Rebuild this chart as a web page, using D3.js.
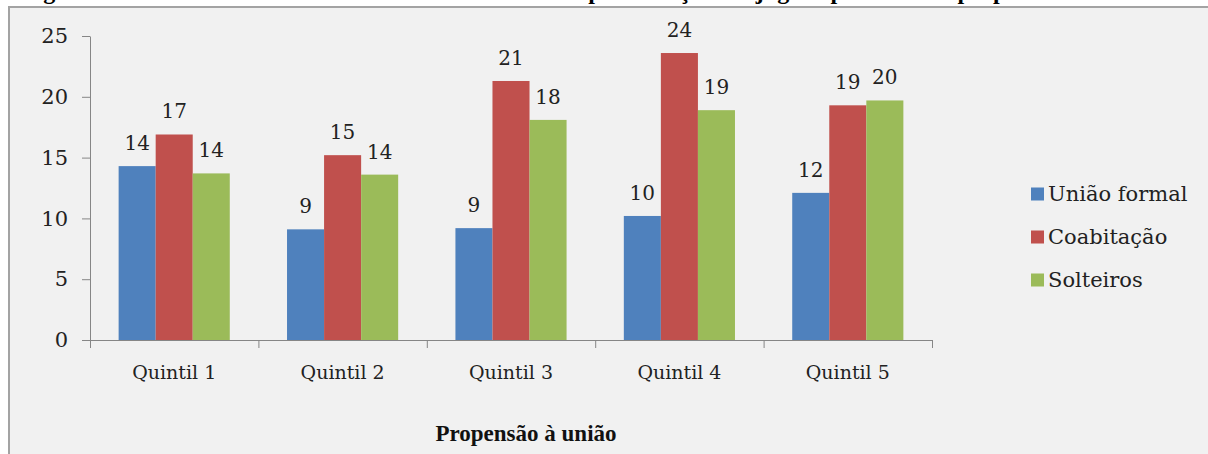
<!DOCTYPE html>
<html>
<head>
<meta charset="utf-8">
<script src="https://cdn.jsdelivr.net/npm/d3@7"></script>
<style>
  html, body { margin: 0; padding: 0; background: #fff; }
  svg { display: block; }
</style>
</head>
<body>
<div id="chart"></div>
<script>
// data
var categories = ["Quintil 1", "Quintil 2", "Quintil 3", "Quintil 4", "Quintil 5"]
var seriesNames = ["União formal", "Coabitação", "Solteiros"]
var uniaoFormal = [14.3, 9.1, 9.2, 10.2, 12.1]
var coabitacao = [16.9, 15.2, 21.3, 23.6, 19.3]
var solteiros = [13.7, 13.6, 18.1, 18.9, 19.7]
var yTicks = [0, 5, 10, 15, 20, 25]
var colors = ["#4F81BD", "#C0504D", "#9BBB59"]
var axisTitle = "Propensão à união"
var figTitle = "Figura 4 – Média de filhos nascidos vivos das mulheres por situação conjugal e por nível de propensão à união"

document.addEventListener('DOMContentLoaded', function() {
	var W = 1208, H = 454
	var serif = "'DejaVu Serif', serif"

	var svg = d3.select("#chart")
		.append("svg")
		.attr("width", W)
		.attr("height", H)

	// title cut off by the top of the picture, only descenders show
	svg.append("text")
		.attr("x", 22)
		.attr("y", -1)
		.style("font-family", "'Liberation Serif', serif")
		.style("font-weight", "bold")
		.style("font-size", "24px")
		.attr("fill", "#000")
		.text(figTitle)

	// chart frame
	svg.append("rect")
		.attr("x", 9)
		.attr("y", 7)
		.attr("width", 1400)
		.attr("height", 600)
		.attr("fill", "#f1f1f1")
		.attr("stroke", "#a3a3a3")
		.attr("stroke-width", 2)

	var table = categories.map(function(c, i) {
		return { cat: c, values: [uniaoFormal[i], coabitacao[i], solteiros[i]] }
	})

	var x = d3.scaleBand()
		.domain(categories)
		.range([90, 932])
		.paddingInner(0.34)
		.paddingOuter(0.17)

	var xs = d3.scaleBand()
		.domain(d3.range(seriesNames.length))
		.range([0, x.bandwidth()])

	var y = d3.scaleLinear()
		.domain([0, 25])
		.range([340, 36])

	// y axis
	var yAxis = svg.append("g")
		.attr("transform", "translate(90,0)")
		.call(d3.axisLeft(y).tickValues(yTicks).tickSize(8).tickPadding(14).tickSizeOuter(0))
	yAxis.select(".domain").attr("stroke", "#868686")
	yAxis.selectAll(".tick line").attr("stroke", "#868686")
	yAxis.selectAll(".tick text")
		.style("font-family", serif)
		.style("font-size", "21px")
		.attr("fill", "#222")

	// x axis line + category separators
	var xEdges = d3.scaleLinear().domain([0, categories.length]).range([90, 932])
	var xAxis = svg.append("g")
		.attr("transform", "translate(0,340)")
		.call(d3.axisBottom(xEdges).ticks(categories.length).tickSize(8).tickSizeOuter(0).tickFormat(""))
	xAxis.select(".domain").attr("stroke", "#868686")
	xAxis.selectAll(".tick line").attr("stroke", "#868686")

	// category labels
	svg.selectAll(".cat-label")
		.data(categories)
		.enter()
		.append("text")
		.attr("class", "cat-label")
		.attr("x", function(d) { return x(d) + x.bandwidth() / 2 })
		.attr("y", 379)
		.attr("text-anchor", "middle")
		.style("font-family", serif)
		.style("font-size", "19px")
		.attr("fill", "#222")
		.text(function(d) { return d })

	// bars
	var groups = svg.selectAll(".group")
		.data(table)
		.enter()
		.append("g")
		.attr("class", "group")
		.attr("transform", function(d) { return "translate(" + x(d.cat) + ",0)" })

	groups.selectAll("rect")
		.data(function(d) { return d.values })
		.enter()
		.append("rect")
		.attr("x", function(d, i) { return xs(i) })
		.attr("width", xs.bandwidth())
		.attr("y", function(d) { return y(d) })
		.attr("height", function(d) { return y(0) - y(d) })
		.attr("fill", function(d, i) { return colors[i] })

	groups.selectAll(".val")
		.data(function(d) { return d.values })
		.enter()
		.append("text")
		.attr("class", "val")
		.attr("x", function(d, i) { return xs(i) + xs.bandwidth() / 2 })
		.attr("y", function(d) { return y(d) - 16 })
		.attr("text-anchor", "middle")
		.style("font-family", serif)
		.style("font-size", "20px")
		.attr("fill", "#222")
		.text(function(d) { return Math.round(d) })

	// axis title
	svg.append("text")
		.attr("x", 526)
		.attr("y", 441)
		.attr("text-anchor", "middle")
		.style("font-family", "'Liberation Serif', serif")
		.style("font-weight", "bold")
		.style("font-size", "23px")
		.attr("fill", "#111")
		.text(axisTitle)

	// legend
	var legend = svg.selectAll(".legend")
		.data(seriesNames)
		.enter()
		.append("g")
		.attr("class", "legend")
		.attr("transform", function(d, i) { return "translate(1031," + (194 + i * 43) + ")" })

	legend.append("rect")
		.attr("x", 0)
		.attr("y", -6.5)
		.attr("width", 13)
		.attr("height", 13)
		.attr("fill", function(d, i) { return colors[i] })

	legend.append("text")
		.attr("x", 17)
		.attr("y", 0)
		.attr("dy", "0.35em")
		.style("font-family", serif)
		.style("font-size", "21px")
		.attr("fill", "#222")
		.text(function(d) { return d })
})
</script>
</body>
</html>
